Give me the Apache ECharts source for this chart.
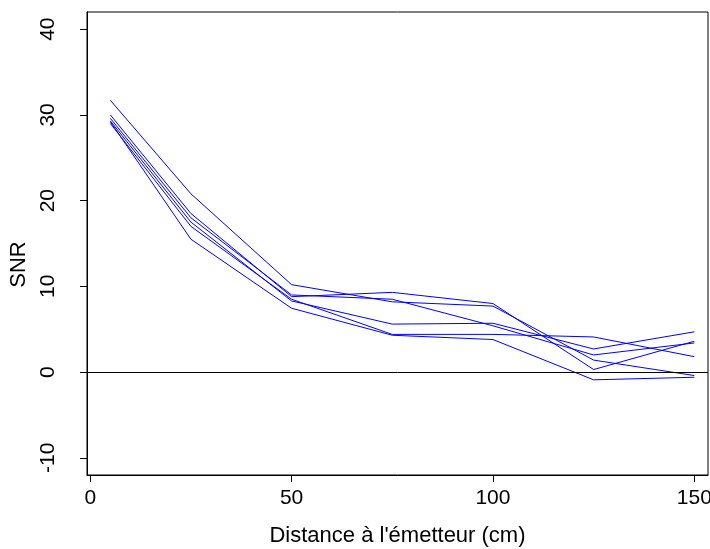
<!DOCTYPE html>
<html>
<head>
<meta charset="utf-8">
<script src="https://cdn.jsdelivr.net/npm/echarts@6/dist/echarts.min.js"></script>
<style>html,body{margin:0;padding:0;background:#fff}#c{width:710px;height:549px}</style>
</head>
<body>
<div id="c"></div>
<script>
// Data
const distances = [5, 25, 50, 75, 100, 125, 150];
const run1 = [31.7, 20.8, 10.2, 8.2, 7.7, 1.4, -0.4];
const run2 = [30.0, 18.5, 8.8, 9.3, 8.0, 0.3, 3.6];
const run3 = [29.6, 18.0, 9.0, 8.5, 5.4, 2.0, 3.4];
const run4 = [29.3, 17.5, 8.3, 5.6, 5.7, 2.7, 4.7];
const run5 = [29.0, 17.0, 8.5, 4.4, 4.4, 4.1, 1.8];
const run6 = [29.2, 15.5, 7.45, 4.3, 3.8, -0.9, -0.6];
const xTicks = [0, 50, 100, 150];
const yTicks = [-10, 0, 10, 20, 30, 40];
const xTitle = "Distance à l'émetteur (cm)";
const yTitle = "SNR";

const runs = [run1, run2, run3, run4, run5, run6];
const font = '"Liberation Sans", Arial, sans-serif';
const chart = echarts.init(document.getElementById('c'), null, {renderer: 'canvas'});
const series = runs.map((r, k) => ({
  type: 'line',
  data: distances.map((d, i) => [d, r[i]]),
  showSymbol: false,
  symbol: 'none',
  lineStyle: {color: '#0000FF', width: 1},
  itemStyle: {color: '#0000FF'},
  silent: true,
  z: 3,
  markLine: k === 0 ? {
    silent: true,
    symbol: ['none', 'none'],
    label: {show: false},
    lineStyle: {color: '#000', width: 1, type: 'solid'},
    data: [{yAxis: 0}]
  } : undefined
}));
chart.setOption({
  animation: false,
  backgroundColor: '#fff',
  grid: {left: 87, right: 2, top: 12, bottom: 74, containLabel: false, outerBoundsMode: 'none',
         show: true, borderColor: '#000', borderWidth: 1, backgroundColor: 'transparent'},
  xAxis: {
    type: 'value', min: -0.8, max: 153.4,
    name: xTitle, nameLocation: 'middle', nameGap: 50,
    nameTextStyle: {fontFamily: font, fontSize: 22, color: '#000'},
    axisLine: {show: true, onZero: false, lineStyle: {color: '#000', width: 1}},
    axisTick: {show: true, inside: false, length: 7, customValues: xTicks, lineStyle: {color: '#000'}},
    axisLabel: {customValues: xTicks, margin: 13, fontFamily: font, fontSize: 21, color: '#000'},
    splitLine: {show: false}
  },
  yAxis: {
    type: 'value', min: -12, max: 42,
    name: yTitle, nameLocation: 'middle', nameGap: 53, nameRotate: 90,
    nameTextStyle: {fontFamily: font, fontSize: 22, color: '#000', padding: [0, 42, 0, 0]},
    axisLine: {show: true, onZero: false, lineStyle: {color: '#000', width: 1}},
    axisTick: {show: true, inside: false, length: 7, customValues: yTicks, lineStyle: {color: '#000'}},
    axisLabel: {customValues: yTicks, rotate: 90, margin: 28, fontFamily: font, fontSize: 21, color: '#000'},
    splitLine: {show: false}
  },
  series: series
});
</script>
</body>
</html>
